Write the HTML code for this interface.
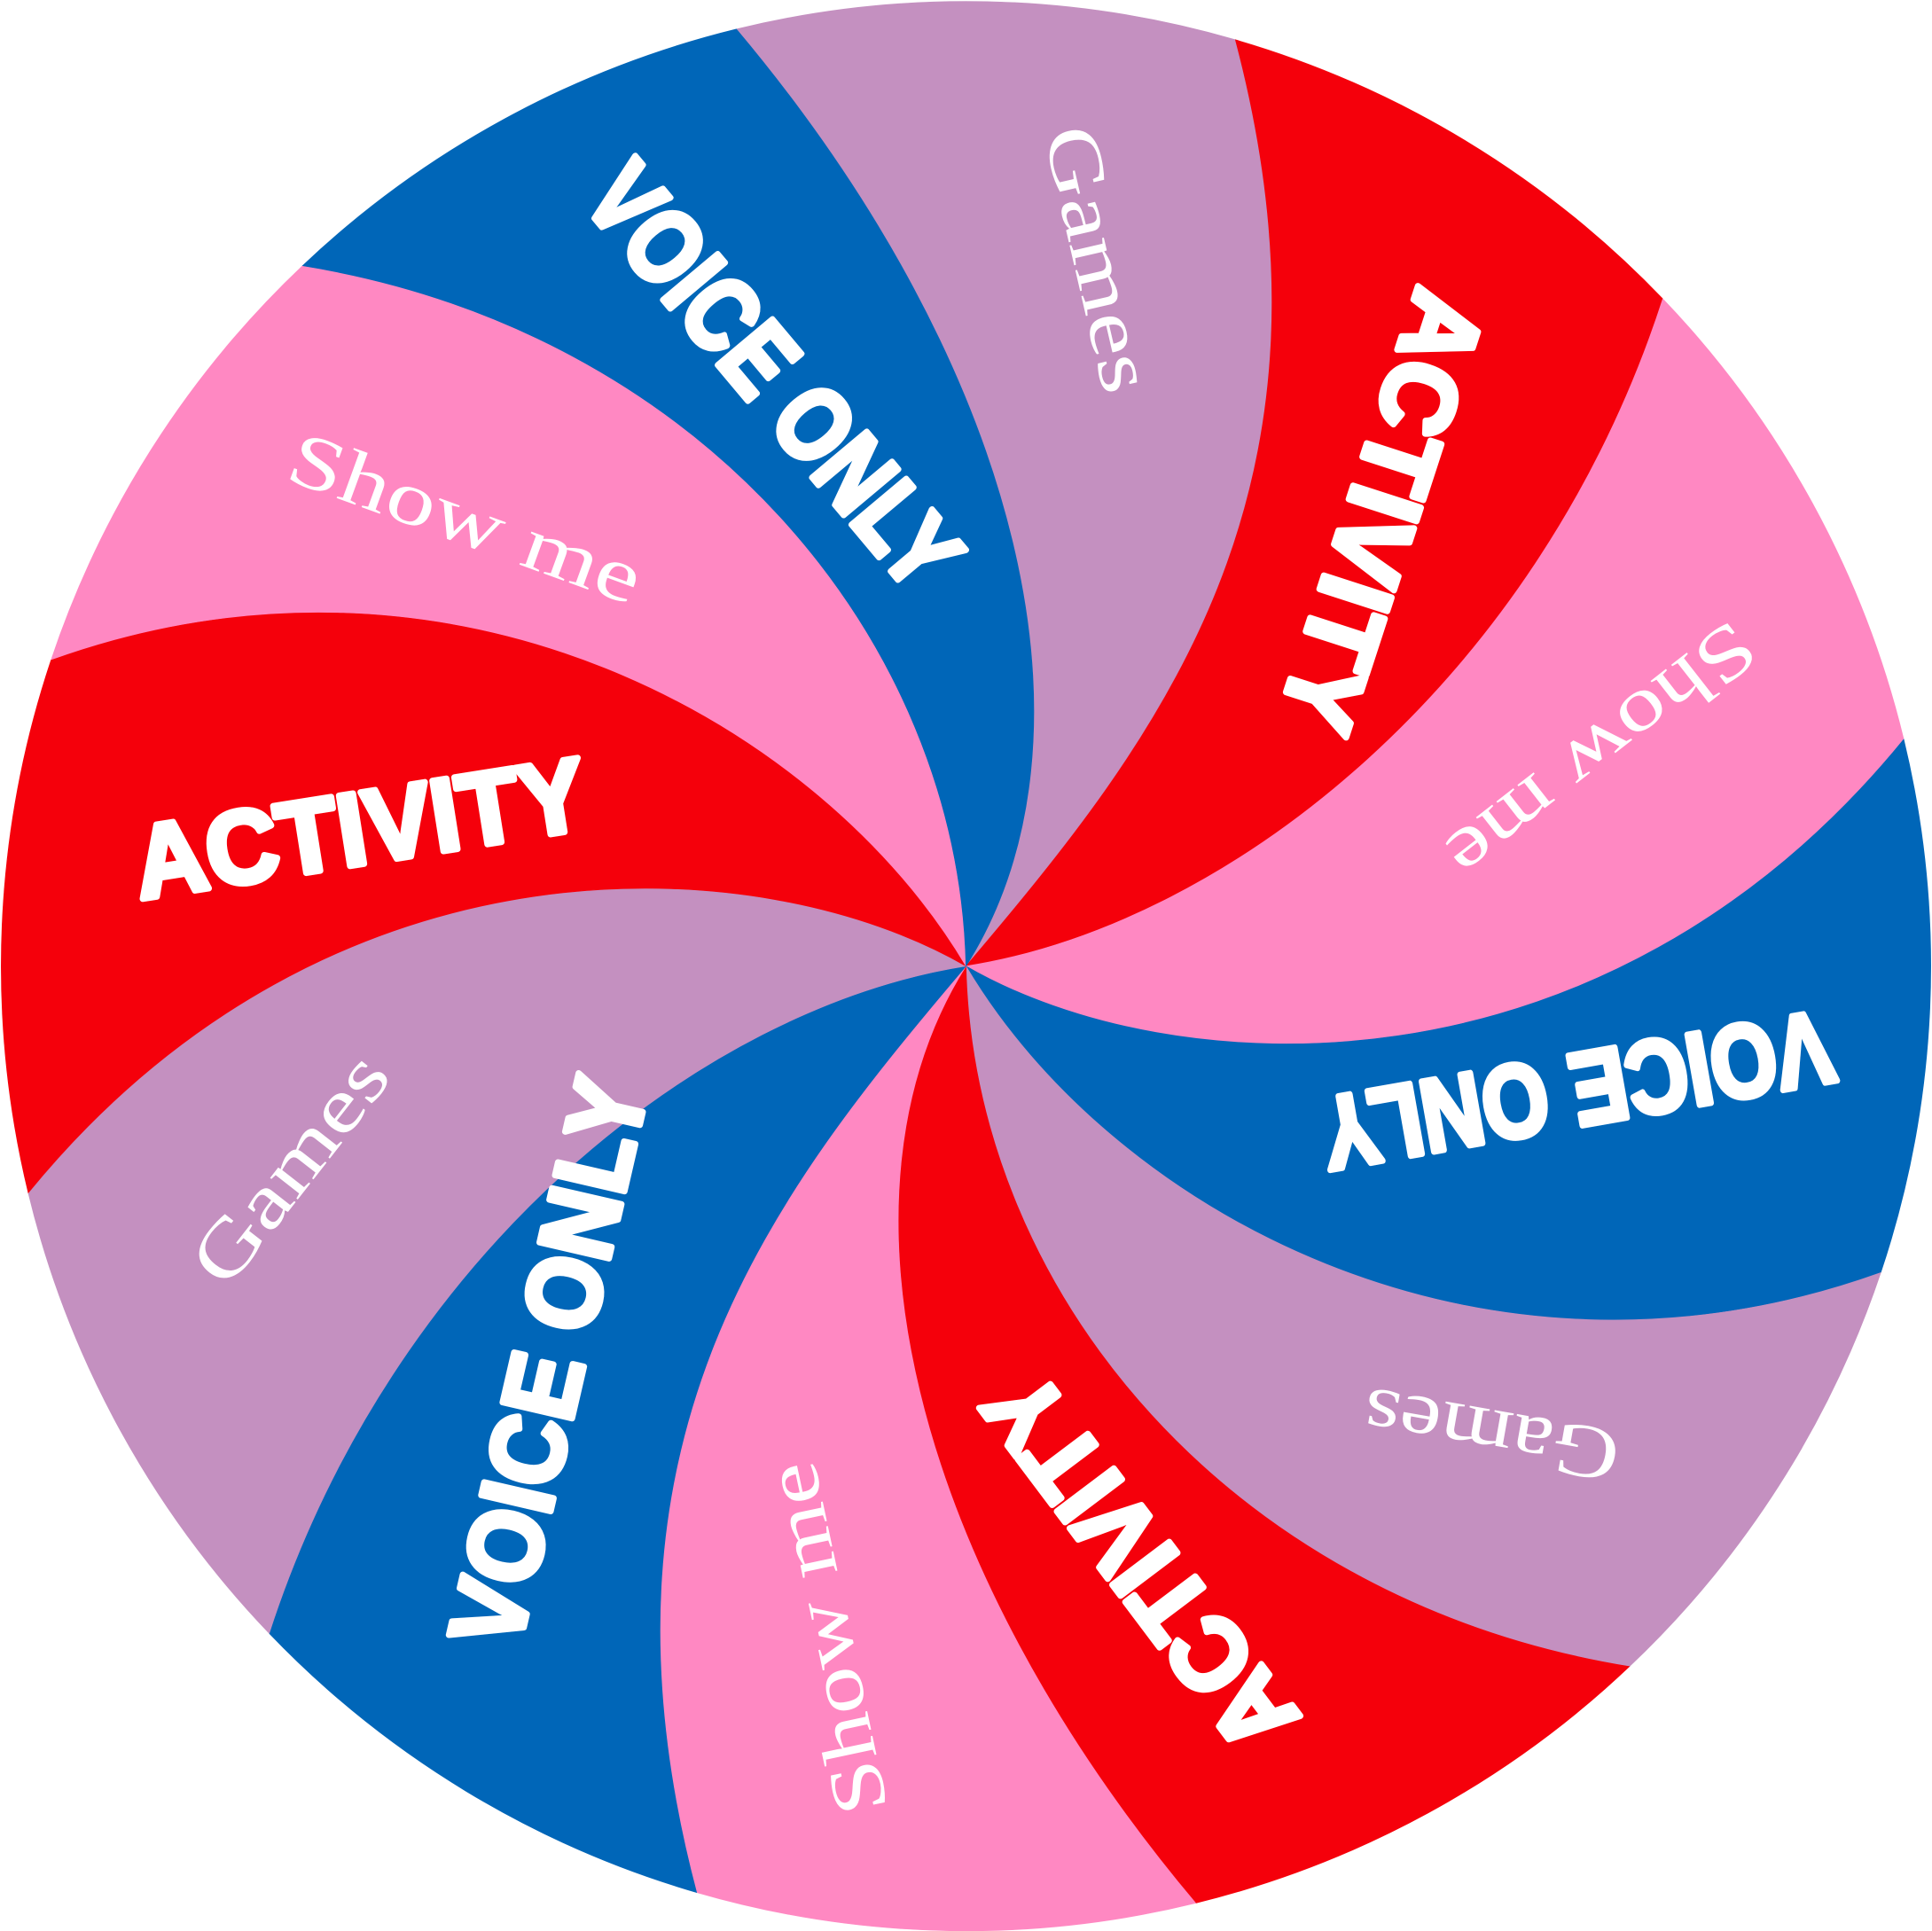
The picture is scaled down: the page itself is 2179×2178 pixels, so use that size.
<!DOCTYPE html>
<html><head><meta charset="utf-8"><style>
html,body{margin:0;padding:0;background:#fff;width:2179px;height:2178px;overflow:hidden}
svg{display:block}
.b{font-family:"Liberation Sans",sans-serif;font-weight:900;fill:#fff;font-size:84px;stroke:#fff;stroke-width:5;stroke-linejoin:round}
.s{font-family:"Liberation Serif",serif;fill:#fff;font-size:62px}
</style></head><body>
<svg width="2179" height="2178" viewBox="0 0 1568 1567" xmlns="http://www.w3.org/2000/svg">
<g id="wedges"></g>
<g id="labels"></g>
</svg>
<script>
const categories=["Games","Activity","Show me","Voice only","Games","Activity","Show me","Voice only","Games","Activity","Show me","Voice only"];
const colors=["#c490c0","#f5000b","#ff88c2","#0066b8"];
const colorIdx=[0,1,2,3,0,1,2,3,0,1,2,3];
const C=[784,784];
const R=783;
const half=[
 [[900,600],[830,300],[597,21]],
 [[940,600],[1100,400],[1003,31]],
 [[1000,750],[1250,550],[1350,242]],
 [[950,880],[1300,900],[1545,600]],
 [[900,980],[1200,1150],[1533,1035]],
 [[790,1050],[1000,1300],[1322,1352]]
];
const rot=p=>[2*C[0]-p[0],2*C[1]-p[1]];
const proj=p=>{const dx=p[0]-C[0],dy=p[1]-C[1],d=Math.hypot(dx,dy);return [C[0]+dx*R/d,C[1]+dy*R/d];};
const B=half.concat(half.map(b=>b.map(rot))).map(b=>[b[0],b[1],proj(b[2])]);
const ns="http://www.w3.org/2000/svg";
const wg=document.getElementById('wedges');
for(let i=0;i<12;i++){
 const a=B[i],b=B[(i+1)%12];
 const d=`M${C} C${a[0]} ${a[1]} ${a[2]} A${R} ${R} 0 0 1 ${b[2]} C${b[1]} ${b[0]} ${C} Z`;
 const p=document.createElementNS(ns,'path');
 p.setAttribute('d',d);p.setAttribute('fill',colors[colorIdx[i]]);
 p.setAttribute('stroke',colors[colorIdx[i]]);p.setAttribute('stroke-width','0.5');
 
 
 wg.appendChild(p);
}
const lab=[
 ["VOICE ONLY",628,305,50,420,1],["Games",892,210,77,220,0],["ACTIVITY",1122,415,108,370,1],
 ["Show me",1300,610,142,300,0],["VOICE ONLY",1280,885,170,420,1],["Games",1210,1165,190,210,0],
 ["ACTIVITY",925,1268,233,360,1],["Show me",670,1330,-102,290,0],["VOICE ONLY",445,1105,-77,470,1],
 ["Games",235,948,-52,220,0],["ACTIVITY",292,672,-9,370,1],["Show me",378,420,20,300,0]
];
const lg=document.getElementById('labels');
lab.forEach(l=>{
 const t=document.createElementNS(ns,'text');
 t.textContent=l[0];
 t.setAttribute('class',l[5]?'b':'s');
 t.setAttribute('x',l[1]);t.setAttribute('y',l[2]);
 t.setAttribute('text-anchor','middle');t.setAttribute('dominant-baseline','central');
 t.setAttribute('textLength',l[4]);t.setAttribute('lengthAdjust','spacingAndGlyphs');
 t.setAttribute('transform',`rotate(${l[3]} ${l[1]} ${l[2]})`);
 
 
 lg.appendChild(t);
});
</script>
</body></html>
